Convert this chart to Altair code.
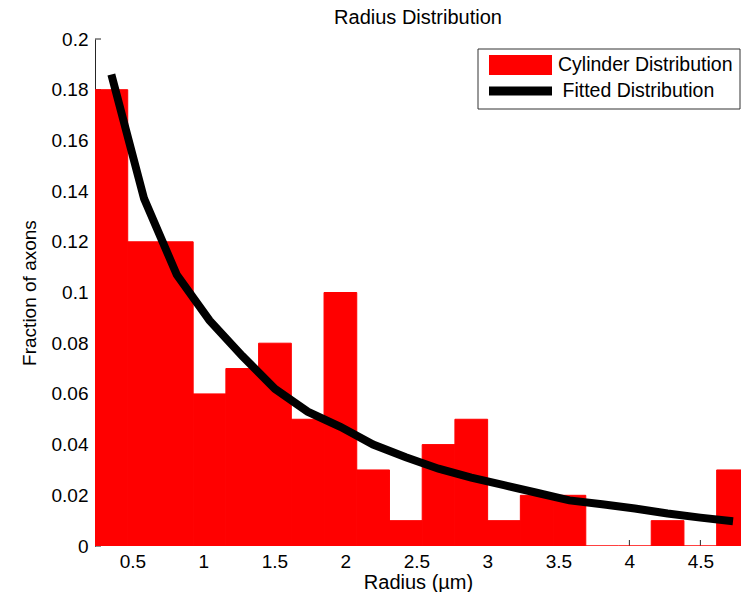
import altair as alt
import numpy as np
import pandas as pd

FONT = "Liberation Sans"

# histogram definition
bin_lo = 0.237
bin_hi = 4.845
fractions = [0.18, 0.12, 0.12, 0.06, 0.07, 0.08, 0.05, 0.10, 0.03, 0.01,
             0.04, 0.05, 0.01, 0.02, 0.02, 0.0, 0.0, 0.01, 0.0, 0.03]
fitted = [0.186, 0.137, 0.107, 0.089, 0.075, 0.062, 0.053, 0.047, 0.040, 0.035,
          0.0305, 0.027, 0.024, 0.021, 0.018, 0.0165, 0.0148, 0.0128, 0.0112, 0.0098]
series_names = ["Cylinder Distribution", "Fitted Distribution"]
y_ticks = [0, 0.02, 0.04, 0.06, 0.08, 0.1, 0.12, 0.14, 0.16, 0.18, 0.2]
x_ticks = [0.5, 1, 1.5, 2, 2.5, 3, 3.5, 4, 4.5]
x_domain = [0.237, 4.786]
y_domain = [0, 0.2]

PLOT_W, PLOT_H = 646, 507

edges = np.linspace(bin_lo, bin_hi, len(fractions) + 1)
centers = (edges[:-1] + edges[1:]) / 2
bars_df = pd.DataFrame({"start": edges[:-1], "end": edges[1:], "frac": fractions,
                        "series": series_names[0]})
fit_df = pd.DataFrame({"start": centers, "frac": fitted, "series": series_names[1]})
yt_df = pd.DataFrame({"frac": y_ticks})
xt_df = pd.DataFrame({"start": x_ticks})
box_df = pd.DataFrame({"k": [0]})

x_axis = alt.Axis(values=x_ticks, format="~g", labelFontSize=19, labelFont=FONT,
                  labelColor="black", ticks=False, domain=False, grid=False,
                  labelPadding=6, title="Radius (\u00b5m)", titleFont=FONT,
                  titleFontSize=20, titleFontWeight="normal", titleColor="black",
                  titleBaseline="alphabetic", titleY=42.5)
y_axis = alt.Axis(values=y_ticks, format=".2~f", labelFontSize=19, labelFont=FONT,
                  labelColor="black", ticks=False, domain=True, domainColor="#262626",
                  grid=False, labelPadding=7, title="Fraction of axons", titleFont=FONT,
                  titleFontSize=19, titleFontWeight="normal", titleColor="black",
                  titlePadding=12)

def X(field="start"):
    return alt.X(f"{field}:Q",
                 scale=alt.Scale(domain=x_domain, nice=False, zero=False, padding=0),
                 axis=x_axis, title="Radius (\u00b5m)")

def Y():
    return alt.Y("frac:Q",
                 scale=alt.Scale(domain=y_domain, nice=False, zero=False, padding=0),
                 axis=y_axis, title="Fraction of axons")

ytick_layer = alt.Chart(yt_df).mark_rule(color="#262626", strokeWidth=1).encode(
    y=Y(), x=alt.value(0), x2=alt.value(6))
xtick_layer = alt.Chart(xt_df).mark_rule(color="#262626", strokeWidth=1).encode(
    x=X(), y=alt.value(PLOT_H), y2=alt.value(PLOT_H - 6))

rect_path = "M-1,-0.32L1,-0.32L1,0.32L-1,0.32Z"

common_leg = dict(title=None, orient="none", labelFont=FONT,
                  labelFontSize=19.5, labelColor="black", labelLimit=400,
                  symbolSize=3969, padding=0, labelOffset=6)

bar_layer = alt.Chart(bars_df).mark_bar(stroke="#ff0000", strokeWidth=1,
                                        clip=True).encode(
    x=X(), x2="end:Q", y=Y(), y2=alt.datum(0),
    color=alt.Color("series:N",
                    scale=alt.Scale(domain=[series_names[0]], range=["#ff0000"]),
                    legend=alt.Legend(legendX=394, legendY=-5.5, symbolType=rect_path,
                                      symbolStrokeWidth=0, symbolOffset=0,
                                      **common_leg)),
)

line_layer = alt.Chart(fit_df).mark_line(strokeWidth=8, strokeCap="butt",
                                         strokeJoin="miter").encode(
    x=X(), y=Y(),
    stroke=alt.Stroke("series:N",
                      scale=alt.Scale(domain=[series_names[1]], range=["#000000"]),
                      legend=alt.Legend(legendX=385, legendY=16, symbolType="stroke",
                                        symbolStrokeWidth=9, symbolOffset=4.5,
                                        **common_leg)),
)

box_layer = alt.Chart(box_df).mark_rect(fill="white", stroke="#333333",
                                        strokeWidth=1).encode(
    x=alt.value(383), x2=alt.value(645), y=alt.value(10), y2=alt.value(70))

chart = alt.layer(ytick_layer, xtick_layer, bar_layer, line_layer, box_layer).properties(
    width=PLOT_W, height=PLOT_H,
    padding={"left": 87, "top": 31, "right": 0, "bottom": 46},
    autosize="none",
    title=alt.Title("Radius Distribution", fontSize=20, font=FONT,
                    fontWeight="normal", color="black", offset=9, anchor="middle",
                    frame="group", dy=7),
).configure_view(stroke=None)

chart.save("out.html", embed_options={"renderer": "svg", "actions": False})
